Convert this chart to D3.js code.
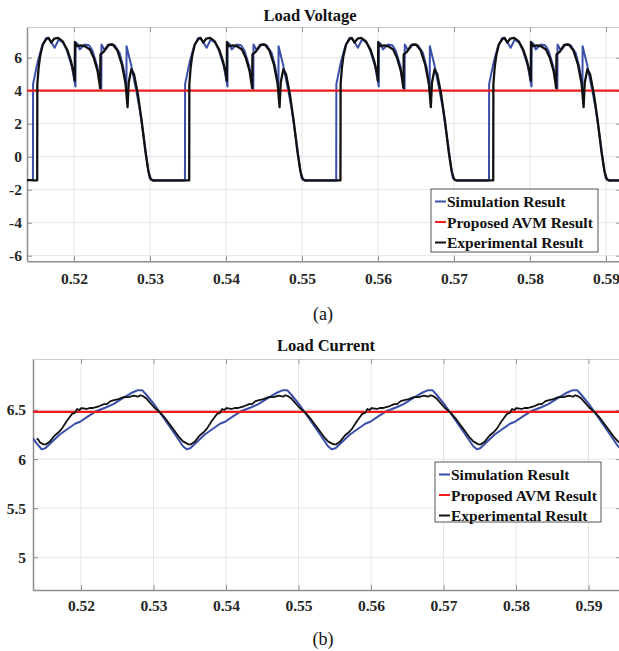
<!DOCTYPE html>
<html>
<head>
<meta charset="utf-8">
<script src="https://cdn.jsdelivr.net/npm/d3@7"></script>
<style>
  body { margin: 0; background: #fff; }
  svg { display: block; font-family: "Liberation Serif", "Times New Roman", serif; }
  svg text { font-family: "Liberation Serif", "Times New Roman", serif !important; }
</style>
</head>
<body>
<div class="graph"></div>
<script>
/*---------- DATA ----------*/

// x ticks shared by both panels
const xTicks = [0.52, 0.53, 0.54, 0.55, 0.56, 0.57, 0.58, 0.59];

// (a) Load Voltage
const vTicksY = [-6, -4, -2, 0, 2, 4, 6];
const vCycleStarts = [0.5146, 0.5346, 0.5545, 0.5746];   // blue rising edges, s
const vLead = [[0.5138, -1.42], [0.5146, -1.42]];          // flat part before the first edge
// one cycle, [ms after edge, volts]
const vSim = [[0, -1.42], [0.02, 4.4], [0.6, 5.7], [1.2, 6.7], [1.75, 7.2], [2.2, 7.1], [2.85, 6.6],
  [3.4, 7.1], [4.0, 6.9], [4.5, 6.4], [5.1, 5.5], [5.6, 4.25], [5.62, 6.9], [5.85, 6.85], [6.15, 6.5],
  [6.8, 6.8], [7.4, 6.75], [7.85, 6.4], [8.45, 5.5], [9.0, 4.1], [9.02, 6.8], [9.45, 6.45], [10.1, 6.8],
  [10.75, 6.75], [11.4, 6.3], [11.9, 5.4], [12.3, 4.1], [12.32, 6.7], [12.9, 5.6], [13.6, 4.0], [14.0, 3.0],
  [14.7, 0.8], [15.1, -0.6], [15.35, -1.3], [15.6, -1.42], [20, -1.42]];
const vExp = [[0, -1.44], [0.56, -1.44], [0.58, 4.4], [0.75, 5.4], [0.95, 6.1], [1.3, 6.8], [1.8, 7.15],
  [2.05, 7.2], [2.4, 6.92], [2.8, 7.15], [3.3, 7.2], [3.9, 7.0], [4.5, 6.5], [5.0, 5.8], [5.35, 5.1],
  [5.5, 4.6], [5.53, 6.95], [5.8, 6.7], [6.3, 6.75], [6.9, 6.68], [7.5, 6.5], [8.0, 6.0], [8.5, 5.2],
  [8.85, 4.15], [8.88, 6.2], [9.3, 6.35], [9.9, 6.78], [10.5, 6.8], [11.1, 6.45], [11.7, 5.6], [12.2, 4.4],
  [12.45, 3.0], [12.6, 4.5], [12.95, 5.3], [13.3, 5.0], [13.8, 3.8], [14.3, 2.2], [14.8, 0.3], [15.2, -0.9],
  [15.5, -1.35], [15.8, -1.45], [20, -1.45]];
const vAvm = 4.0;

// (b) Load Current
const iTicksY = [5, 5.5, 6, 6.5];
const iCycleStarts = [0.51457, 0.53457, 0.5546, 0.57456]; // blue minima, s
const iLeadSim = [[0.51327, 6.22], [0.5140, 6.15]];
const iLeadExp = [[0.51388, 6.21], [0.5141, 6.2], [0.51433, 6.17]];
// one cycle, [ms after minimum, amps]
const iSim = [[0, 6.10], [0.5, 6.11], [2.5, 6.25], [4.6, 6.36], [5.3, 6.38], [6.5, 6.44], [7.6, 6.49],
  [9.0, 6.53], [9.9, 6.56], [11.2, 6.62], [12.3, 6.67], [13.2, 6.70], [13.9, 6.70], [14.5, 6.65],
  [15.5, 6.56], [17.0, 6.40], [18.5, 6.24], [19.5, 6.13], [20, 6.10]];
const iExp = [[0, 6.16], [0.2, 6.15], [0.6, 6.15], [1.15, 6.18], [1.8, 6.24], [2.3, 6.27], [2.8, 6.31],
  [3.4, 6.38], [3.8, 6.42], [4.2, 6.46], [4.6, 6.47], [4.9, 6.51], [5.2, 6.50], [5.5, 6.52], [6.2, 6.51],
  [6.6, 6.52], [7.1, 6.52], [7.5, 6.53], [8.0, 6.54], [8.6, 6.56], [9.0, 6.56], [9.5, 6.59], [10.0, 6.60],
  [10.6, 6.61], [11.3, 6.63], [12.0, 6.63], [12.7, 6.645], [13.3, 6.635], [13.6, 6.65], [14.0, 6.64],
  [14.4, 6.62], [15.0, 6.57], [15.6, 6.52], [16.4, 6.47], [17.0, 6.42], [17.5, 6.37], [18.0, 6.32],
  [18.5, 6.27], [19.0, 6.22], [19.5, 6.18], [20, 6.16]];
const iAvm = 6.48;

const legendNames = ["Simulation Result", "Proposed AVM Result", "Experimental Result"];
const COLORS = {SIM: "#3a4faa", AVM: "#f21c1c", EXP: "#111111"};
const SERIF = '"Liberation Serif", "Times New Roman", serif';

/*---------- HELPERS ----------*/

//lay the one-cycle readings at each cycle start
function tile(lead, cycle, starts) {
    let out = lead.map(([t, v]) => ({t, v}));
    starts.forEach(s => cycle.forEach(([dt, v]) => out.push({t: s + dt / 1000, v})));
    return out;
}

const svg = d3.select(".graph").append("svg")
    .attr("width", 619)
    .attr("height", 651);

function panel(opt) {
    const x = d3.scaleLinear().domain(opt.xDomain).range([opt.left, opt.right]);
    const y = d3.scaleLinear().domain(opt.yDomain).range([opt.bottom, opt.top]);
    const g = svg.append("g");

    const clipId = "clip" + opt.id;
    g.append("clipPath").attr("id", clipId)
        .append("rect")
        .attr("x", opt.left).attr("y", opt.top)
        .attr("width", opt.right - opt.left).attr("height", opt.bottom - opt.top);

    //grid
    g.append("g").selectAll("line").data(xTicks).join("line")
        .attr("x1", d => x(d)).attr("x2", d => x(d))
        .attr("y1", opt.top).attr("y2", opt.bottom)
        .attr("stroke", "#e6e6e6");
    g.append("g").selectAll("line").data(opt.yTicks).join("line")
        .attr("y1", d => y(d)).attr("y2", d => y(d))
        .attr("x1", opt.left).attr("x2", opt.right)
        .attr("stroke", "#e6e6e6");

    //box axes (top/right no labels)
    const topAx = g.append("g").attr("transform", `translate(0,${opt.top})`)
        .call(d3.axisTop(x).tickValues(xTicks).tickSizeInner(-5).tickSizeOuter(0).tickFormat(""));
    const rightAx = g.append("g").attr("transform", `translate(${opt.right},0)`)
        .call(d3.axisRight(y).tickValues(opt.yTicks).tickSizeInner(-5).tickSizeOuter(0).tickFormat(""));
    [topAx, rightAx].forEach(a => {
        a.select(".domain").attr("stroke", "#cccccc");
        a.selectAll(".tick line").attr("stroke", "#9a9a9a");
    });

    const xAx = g.append("g").attr("transform", `translate(0,${opt.bottom})`)
        .call(d3.axisBottom(x).tickValues(xTicks).tickSizeInner(-5).tickSizeOuter(0)
            .tickPadding(opt.xPad).tickFormat(d3.format(".2f")));
    const yAx = g.append("g").attr("transform", `translate(${opt.left},0)`)
        .call(d3.axisLeft(y).tickValues(opt.yTicks).tickSizeInner(-5).tickSizeOuter(0)
            .tickPadding(opt.yPad).tickFormat(d => String(d)));
    [xAx, yAx].forEach(a => {
        a.attr("font-family", null);
        a.select(".domain").attr("stroke", "#8c8c8c").attr("stroke-width", 1.5);
        a.selectAll(".tick line").attr("stroke", "#8c8c8c");
        a.selectAll("text")
            .style("font-family", SERIF)
            .attr("font-weight", "bold").attr("font-size", 15.5).attr("fill", "#262626");
    });

    //lines
    const line = d3.line().x(d => x(d.t)).y(d => y(d.v));
    const plot = g.append("g").attr("clip-path", `url(#${clipId})`);
    plot.append("path").datum(opt.sim)
        .attr("d", line).attr("fill", "none")
        .attr("stroke", COLORS.SIM).attr("stroke-width", 2).attr("stroke-linejoin", "round");
    plot.append("line")
        .attr("x1", opt.left).attr("x2", opt.right)
        .attr("y1", y(opt.avm)).attr("y2", y(opt.avm))
        .attr("stroke", COLORS.AVM).attr("stroke-width", 2.2);
    plot.append("path").datum(opt.exp)
        .attr("d", line).attr("fill", "none")
        .attr("stroke", COLORS.EXP).attr("stroke-width", opt.expWidth).attr("stroke-linejoin", "round");

    //title + caption
    svg.append("text").attr("x", opt.titleX).attr("y", opt.titleY)
        .style("font-family", SERIF)
        .attr("text-anchor", "middle").attr("font-weight", "bold").attr("font-size", 16.5)
        .attr("fill", "#111").text(opt.title);
    svg.append("text").attr("x", 323).attr("y", opt.capY)
        .style("font-family", SERIF)
        .attr("text-anchor", "middle").attr("font-size", 18).attr("fill", "#111").text(opt.caption);

    //legend
    const lg = svg.append("g").attr("transform", `translate(${opt.legend.x},${opt.legend.y})`);
    lg.append("rect").attr("width", opt.legend.w).attr("height", opt.legend.h)
        .attr("fill", "#fff").attr("stroke", "#555").attr("stroke-width", 1);
    const cols = [COLORS.SIM, COLORS.AVM, COLORS.EXP];
    legendNames.forEach((name, i) => {
        const cy = 12.5 + i * 20.5;
        lg.append("line").attr("x1", 4).attr("x2", 15).attr("y1", cy).attr("y2", cy)
            .attr("stroke", cols[i]).attr("stroke-width", 2);
        lg.append("text").attr("x", 16).attr("y", cy + 5.5)
            .style("font-family", SERIF)
            .attr("font-weight", "bold").attr("font-size", 15.5).attr("fill", "#111").text(name);
    });
}

/*---------- DRAW ----------*/

panel({
    id: "a", title: "Load Voltage", caption: "(a)", titleX: 310, titleY: 21, capY: 320,
    left: 27, right: 621, top: 27, bottom: 261.3,
    xDomain: [0.51382, 0.59197], yDomain: [-6.34, 7.86], yTicks: vTicksY,
    xPad: 12, yPad: 5,
    sim: tile(vLead, vSim, vCycleStarts), exp: tile(vLead, vExp, vCycleStarts), avm: vAvm,
    expWidth: 2.3,
    legend: {x: 431, y: 189, w: 167, h: 63}
});

panel({
    id: "b", title: "Load Current", caption: "(b)", titleX: 326, titleY: 351, capY: 645,
    left: 33, right: 621, top: 359, bottom: 590,
    xDomain: [0.51338, 0.59448], yDomain: [4.667, 7.019], yTicks: iTicksY,
    xPad: 10, yPad: 7,
    sim: tile(iLeadSim, iSim, iCycleStarts), exp: tile(iLeadExp, iExp, iCycleStarts), avm: iAvm,
    expWidth: 1.8,
    legend: {x: 435, y: 462, w: 166, h: 60}
});
</script>
</body>
</html>
